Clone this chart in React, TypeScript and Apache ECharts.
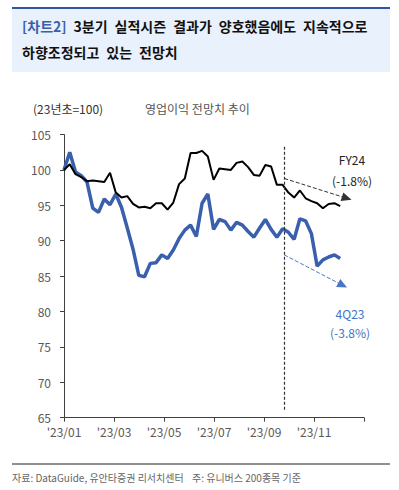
import React, { useEffect, useRef } from "react";
import * as echarts from "echarts";

const xTickLabels = ["'23/01", "'23/03", "'23/05", "'23/07", "'23/09", "'23/11"];

// weekly observations starting 2023-01-01
const fy24 = [
  100.0, 100.8, 99.4, 99.0, 98.4, 98.5, 98.4, 98.3, 99.6, 96.8,
  96.1, 96.3, 95.2, 94.7, 94.8, 94.6, 95.3, 95.3, 94.4, 95.4,
  98.0, 98.8, 102.4, 102.4, 102.7, 101.9, 98.6, 100.2, 100.1, 100.0,
  101.0, 101.2, 100.4, 99.3, 99.2, 100.7, 100.5, 97.9, 97.9, 96.8,
  96.1, 97.1, 96.0, 95.6, 95.3, 94.6, 95.2, 95.3, 94.9,
];
const q4 = [
  100.0, 102.5, 99.7, 99.2, 98.3, 94.6, 94.0, 95.9, 95.1, 96.6,
  94.7, 91.8, 88.8, 85.1, 84.9, 86.8, 86.9, 88.0, 87.5, 88.7,
  90.3, 91.5, 92.2, 90.6, 95.3, 96.6, 91.6, 93.0, 92.7, 91.5,
  92.6, 92.2, 91.3, 90.5, 91.8, 93.0, 91.6, 90.5, 91.7, 91.2,
  90.2, 93.1, 92.8, 91.0, 86.4, 87.3, 87.7, 88.0, 87.5,
];

const cutoffDate = "2023-09-26";
const fyArrow = { from: ["2023-09-26", 98.8], to: ["2023-12-11", 96.0] };
const qArrow = { from: ["2023-09-26", 88.0], to: ["2023-12-06", 83.7] };

const DAY = 86400000;
const START = Date.UTC(2023, 0, 1);
const weekDates = fy24.map((_, i) => new Date(START + i * 7 * DAY).toISOString().slice(0, 10));
const toMonth = (d: string) => ((Date.parse(d + "T00:00:00Z") - START) / DAY / 365) * 12;

const FONT = "'Noto Sans CJK KR', 'Noto Sans', sans-serif";
const SP = "\u2002";

export default function App() {
  const ref = useRef<HTMLDivElement>(null);
  useEffect(() => {
    if (!ref.current) return;
    const chart = echarts.init(ref.current, null, { renderer: "svg" });
    const cx = toMonth(cutoffDate);
    chart.setOption({
      animation: false,
      backgroundColor: "#ffffff",
      textStyle: { fontFamily: FONT },
      grid: { left: 64, top: 134.6, width: 300, height: 283 },
      xAxis: {
        type: "value",
        min: 0,
        max: 12,
        interval: 2,
        splitLine: { show: false },
        axisLine: { lineStyle: { color: "#404040", width: 1 } },
        axisTick: { show: true, length: 4, lineStyle: { color: "#404040" } },
        axisLabel: {
          color: "#595959",
          fontSize: 12,
          fontFamily: FONT,
          margin: 8,
          formatter: (v: number) => (v < 12 ? xTickLabels[Math.round(v / 2)] : ""),
        },
      },
      yAxis: {
        type: "value",
        min: 65,
        max: 105,
        interval: 5,
        splitLine: { show: false },
        axisLine: { show: true, lineStyle: { color: "#404040", width: 1 } },
        axisTick: { show: true, length: 4, lineStyle: { color: "#404040" } },
        axisLabel: { color: "#595959", fontSize: 12, fontFamily: FONT, margin: 13 },
      },
      series: [
        {
          type: "line",
          name: "4Q23",
          data: q4.map((v, i) => [toMonth(weekDates[i]), v]),
          showSymbol: false,
          lineStyle: { color: "#3a5fac", width: 3.5 },
          z: 3,
          markLine: {
            silent: true,
            symbol: ["none", "triangle"],
            symbolSize: [9, 10],
            lineStyle: { type: "dashed", color: "#4a76c4", width: 1 },
            label: { show: false },
            data: [
              [
                { coord: [toMonth(qArrow.from[0] as string), qArrow.from[1]] },
                { coord: [toMonth(qArrow.to[0] as string), qArrow.to[1]] },
              ],
            ],
          },
        },
        {
          type: "line",
          name: "FY24",
          data: fy24.map((v, i) => [toMonth(weekDates[i]), v]),
          showSymbol: false,
          lineStyle: { color: "#000000", width: 2 },
          z: 4,
          markLine: {
            silent: true,
            symbol: ["none", "triangle"],
            symbolSize: [9, 10],
            lineStyle: { type: "dashed", color: "#333333", width: 1 },
            label: { show: false },
            data: [
              [
                { coord: [toMonth(fyArrow.from[0] as string), fyArrow.from[1]] },
                { coord: [toMonth(fyArrow.to[0] as string), fyArrow.to[1]] },
              ],
              [
                { coord: [cx, 103.3], symbol: "none" },
                { coord: [cx, 66.1], symbol: "none", lineStyle: { type: [3, 2], color: "#333333", width: 1.2 } },
              ],
            ],
          },
        },
      ],
      graphic: [
        { type: "rect", shape: { x: 12, y: 9, width: 378, height: 63 }, style: { fill: "#e9f1fc" } },
        { type: "rect", shape: { x: 12, y: 7, width: 378, height: 2 }, style: { fill: "#2f55a4" } },
        {
          type: "text",
          x: 22,
          y: 26,
          style: {
            text: `{b|[차트2]}${SP}{a|3분기${SP}실적시즌${SP}결과가${SP}양호했음에도${SP}지속적으로}`,
            verticalAlign: "middle",
            rich: {
              b: { fill: "#3b5fab", fontSize: 14, fontWeight: "bold", fontFamily: FONT },
              a: { fill: "#111111", fontSize: 14, fontWeight: "bold", fontFamily: FONT },
            },
            fontSize: 14,
            fontFamily: FONT,
          },
        },
        {
          type: "text",
          x: 22,
          y: 52,
          style: {
            text: `하향조정되고${SP}있는${SP}전망치`,
            fill: "#111111",
            fontSize: 14,
            fontWeight: "bold",
            fontFamily: FONT,
            verticalAlign: "middle",
          },
        },
        {
          type: "text",
          x: 33,
          y: 108,
          style: { text: "(23년초=100)", fill: "#333333", fontSize: 12, fontFamily: FONT, verticalAlign: "middle" },
        },
        {
          type: "text",
          x: 145,
          y: 108,
          style: { text: "영업이익 전망치 추이", fill: "#555555", fontSize: 12, fontFamily: FONT, verticalAlign: "middle" },
        },
        {
          type: "text",
          x: 352,
          y: 159,
          style: { text: "FY24", fill: "#222222", fontSize: 12, fontFamily: FONT, align: "center", verticalAlign: "middle" },
        },
        {
          type: "text",
          x: 352,
          y: 180,
          style: { text: "(-1.8%)", fill: "#222222", fontSize: 12, fontFamily: FONT, align: "center", verticalAlign: "middle" },
        },
        {
          type: "text",
          x: 350,
          y: 313,
          style: { text: "4Q23", fill: "#4472c4", fontSize: 12, fontFamily: FONT, align: "center", verticalAlign: "middle" },
        },
        {
          type: "text",
          x: 350,
          y: 332,
          style: { text: "(-3.8%)", fill: "#4472c4", fontSize: 12, fontFamily: FONT, align: "center", verticalAlign: "middle" },
        },
        { type: "rect", shape: { x: 12, y: 463.5, width: 378, height: 1 }, style: { fill: "#222222" } },
        {
          type: "text",
          x: 12,
          y: 477,
          style: { text: "자료: DataGuide, 유안타증권 리서치센터", fill: "#666666", fontSize: 10, fontFamily: FONT, verticalAlign: "middle" },
        },
        {
          type: "text",
          x: 192,
          y: 477,
          style: { text: "주: 유니버스 200종목 기준", fill: "#666666", fontSize: 10, fontFamily: FONT, verticalAlign: "middle" },
        },
      ],
    });
    return () => chart.dispose();
  }, []);
  return <div ref={ref} style={{ position: "absolute", left: 0, top: 0, width: 399, height: 490 }} />;
}
